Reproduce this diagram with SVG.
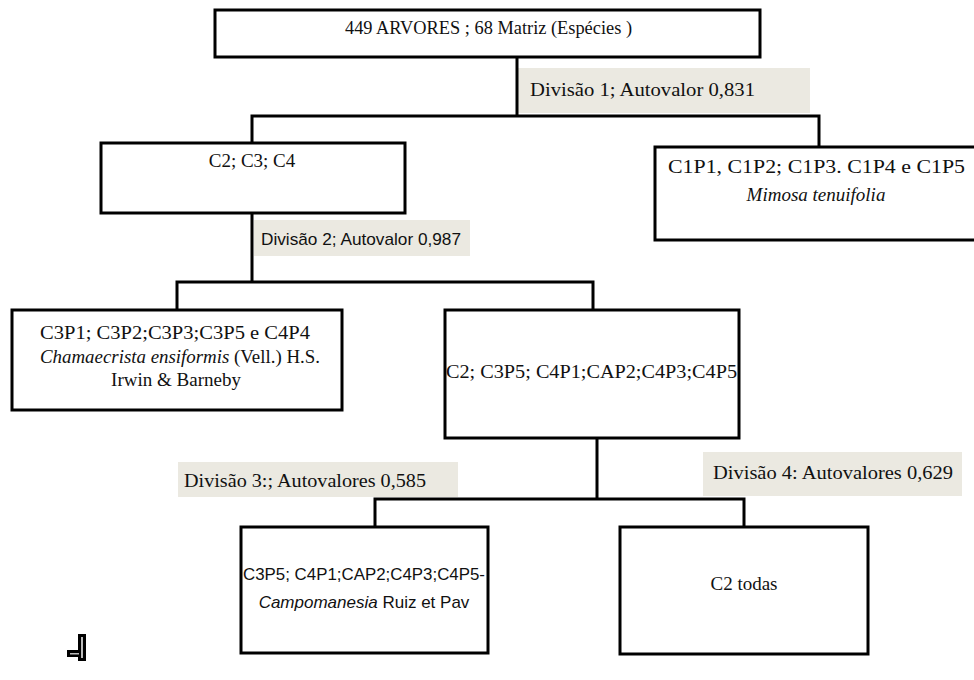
<svg xmlns="http://www.w3.org/2000/svg" width="974" height="680" viewBox="0 0 974 680">
<style>
.box{fill:#fff;stroke:#000;stroke-width:3}
.lbl{fill:#ebe9e1}
.con{fill:none;stroke:#000;stroke-width:3}
.t{font-family:"Liberation Serif","Times New Roman",serif;font-size:19px;fill:#111}
.s{font-family:"Liberation Sans",Arial,sans-serif;font-size:17px;fill:#111}
.c{text-anchor:middle}
</style>
<rect width="974" height="680" fill="#fff"/>
<g id="labels">
<rect class="lbl" x="517" y="68" width="293" height="45"/>
<rect class="lbl" x="254" y="220" width="216" height="36"/>
<rect class="lbl" x="178" y="462" width="280" height="35"/>
<rect class="lbl" x="703" y="452" width="259" height="44"/>
<text class="t" x="530" y="96" textLength="225" lengthAdjust="spacingAndGlyphs">Divisão  1; Autovalor 0,831</text>
<text class="s" x="261" y="245" font-size="17" textLength="200" lengthAdjust="spacingAndGlyphs">Divisão 2; Autovalor  0,987</text>
<text class="t" x="184" y="487" textLength="242" lengthAdjust="spacingAndGlyphs">Divisão 3:; Autovalores 0,585</text>
<text class="t" x="713" y="479" textLength="240" lengthAdjust="spacingAndGlyphs">Divisão  4: Autovalores 0,629</text>
</g>
<g id="connectors">
<path class="con" d="M517 57V116M252 143V116H819V147"/>
<path class="con" d="M252 213V282M177 310V282H593V310"/>
<path class="con" d="M597 438V499M375 527V499H744V527"/>
</g>
<g id="root">
<rect class="box" x="215" y="10" width="545" height="47"/>
<text class="t" x="345" y="34" font-size="20" textLength="287" lengthAdjust="spacingAndGlyphs">449 ARVORES ; 68 Matriz  (Espécies )</text>
</g>
<g id="n-c2c3c4">
<rect class="box" x="101" y="143" width="304" height="70"/>
<text class="t c" x="252" y="167" font-size="20">C2; C3; C4</text>
</g>
<g id="n-c1">
<rect class="box" x="655" y="147" width="330" height="93"/>
<text class="t" x="668" y="173" font-size="21" textLength="297" lengthAdjust="spacingAndGlyphs">C1P1, C1P2; C1P3. C1P4 e C1P5</text>
<text class="t c" x="816" y="201" font-size="21" font-style="italic">Mimosa tenuifolia</text>
</g>
<g id="n-c3">
<rect class="box" x="12" y="310" width="330" height="100"/>
<text class="t" x="40" y="339" font-size="20" textLength="270" lengthAdjust="spacingAndGlyphs">C3P1; C3P2;C3P3;C3P5 e C4P4</text>
<text class="t" x="40" y="363" font-size="20" textLength="280" lengthAdjust="spacingAndGlyphs"><tspan font-style="italic">Chamaecrista ensiformis</tspan> (Vell.)  H.S.</text>
<text class="t c" x="176" y="386" font-size="20">Irwin  &amp; Barneby</text>
</g>
<g id="n-c2mix">
<rect class="box" x="445" y="310" width="294" height="128"/>
<text class="t" x="446" y="378" textLength="291" lengthAdjust="spacingAndGlyphs">C2; C3P5; C4P1;CAP2;C4P3;C4P5</text>
</g>
<g id="n-campo">
<rect class="box" x="241" y="527" width="247" height="126"/>
<text class="s" x="243" y="580" textLength="242" lengthAdjust="spacingAndGlyphs">C3P5; C4P1;CAP2;C4P3;C4P5-</text>
<text class="s c" x="364" y="608"><tspan font-style="italic">Campomanesia</tspan> Ruiz et Pav</text>
</g>
<g id="n-c2todas">
<rect class="box" x="620" y="527" width="248" height="127"/>
<text class="t c" x="744" y="590" font-size="20">C2 todas</text>
</g>
<g id="glyph">
<rect x="78" y="634" width="8" height="27" fill="#000"/>
<rect x="81" y="637" width="2" height="21" fill="#bbb"/>
<rect x="67" y="650" width="13" height="7" fill="#000"/>
<rect x="70" y="653" width="9" height="1.5" fill="#bbb"/>
</g>
</svg>
